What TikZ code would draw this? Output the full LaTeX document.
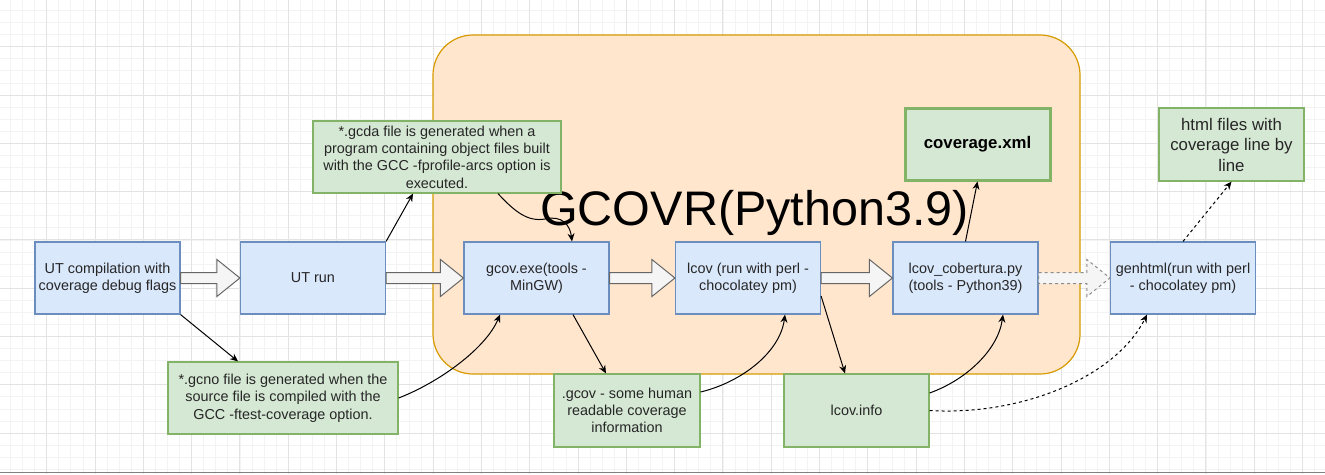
\documentclass[tikz,border=0pt]{standalone}
\usepackage{fontspec}
\setmainfont{Liberation Sans}
\usetikzlibrary{arrows.meta,calc}
\definecolor{bluefill}{HTML}{DAE8FC}
\definecolor{bluestroke}{HTML}{6C8EBF}
\definecolor{greenfill}{HTML}{D5E8D4}
\definecolor{greenstroke}{HTML}{82B366}
\definecolor{orangefill}{HTML}{FFE6CC}
\definecolor{orangestroke}{HTML}{D79B00}
\definecolor{arrowfill}{HTML}{F5F5F5}
\definecolor{arrowstroke}{HTML}{666666}
\definecolor{minorcol}{HTML}{F3F3F3}
\definecolor{majorcol}{HTML}{E3E3E3}
\newcommand\blockarr[3]{\draw[#1] let \p1=(#2.east), \p2=(#3.west) in
  (\x1,\y1+5.5pt) -- (\x2-23pt,\y1+5.5pt) -- (\x2-23pt,\y1+18.5pt) -- (\x2,\y1)
  -- (\x2-23pt,\y1-18.5pt) -- (\x2-23pt,\y1-5.5pt) -- (\x1,\y1-5.5pt) -- cycle;}
\begin{document}
\begin{tikzpicture}[x=1pt,y=-1pt,
  every node/.style={font=\fontsize{14.4}{17.3}\selectfont, align=center, inner sep=0pt, text=black!85},
  bluebox/.style={draw=bluestroke, fill=bluefill, line width=1.2pt, minimum width=145pt, minimum height=72pt},
  greenbox/.style={draw=greenstroke, fill=greenfill, line width=1.2pt},
  blockstyle/.style={draw=arrowstroke, fill=arrowfill, line width=1pt},
  dashblock/.style={draw=black!45, fill=arrowfill, line width=1pt, dash pattern=on 3pt off 3pt},
  conn/.style={draw=black, line width=1pt, -{Stealth[length=8pt,width=7pt]}},
  dconn/.style={conn, dash pattern=on 3pt off 3pt},
  minorgrid/.style={draw=minorcol, line width=0.8pt},
  majorgrid/.style={draw=majorcol, line width=0.9pt}
]
\useasboundingbox (0,0) rectangle (1325,474);
\fill[white] (0,0) rectangle (1325,474);
% grid
\foreach \i in {0,...,110} \draw[minorgrid] ({-1.6+\i*12.075},0) -- ({-1.6+\i*12.075},474);
\foreach \j in {0,...,40} \draw[minorgrid] (0,{-1.6+\j*12.075}) -- (1325,{-1.6+\j*12.075});
\foreach \i in {0,...,28} \draw[majorgrid] ({-1.6+\i*48.3},0) -- ({-1.6+\i*48.3},474);
\foreach \j in {0,...,10} \draw[majorgrid] (0,{-1.6+\j*48.3}) -- (1325,{-1.6+\j*48.3});
\draw[draw=black!50, line width=1.5pt] (0,472.5) -- (1325,472.5);

% container
\node[draw=orangestroke, fill=orangefill, line width=1.2pt, rounded corners=40pt,
      minimum width=647pt, minimum height=339pt] (container) at (756.5,204.5) {};
\node[font=\fontsize{48.5}{56}\selectfont, anchor=base, text=black] (title) at (754.5,225) {GCOVR(Python3.9)};

% main boxes
\node[bluebox] (utc) at (107.5,278) {UT compilation with\\coverage debug flags};
\node[bluebox] (utr) at (313,278) {UT run};
\node[bluebox] (gcov) at (536.5,278) {gcov.exe(tools -\\MinGW)};
\node[bluebox] (lcov) at (748,278) {lcov (run with perl -\\chocolatey pm)};
\node[bluebox] (cob) at (965.5,278) {lcov\_cobertura.py\\(tools - Python39)};
\node[bluebox] (gen) at (1183,278) {genhtml(run with perl\\- chocolatey pm)};

% notes
\node[greenbox, minimum width=248pt, minimum height=72pt] (gcda) at (437,157)
  {*.gcda file is generated when a\\program containing object files built\\with the GCC -fprofile-arcs option is\\executed.};
\node[greenbox, minimum width=230pt, minimum height=72pt] (gcno) at (283,398)
  {*.gcno file is generated when the\\source file is compiled with the\\GCC -ftest-coverage option.};
\node[greenbox, minimum width=146pt, minimum height=73pt] (gcovf) at (627,410.5)
  {.gcov - some human\\readable coverage\\information};
\node[greenbox, minimum width=145pt, minimum height=73pt] (info) at (856.5,410.5) {lcov.info};
\node[greenbox, line width=3pt, minimum width=145pt, minimum height=72pt,
      font=\fontsize{16.8}{20}\selectfont\bfseries, text=black] (xml) at (977.5,144) {coverage.xml};
\node[greenbox, minimum width=145pt, minimum height=73pt,
      font=\fontsize{16.8}{20.5}\selectfont] (html) at (1231.5,144.5) {html files with\\coverage line by\\line};

% block arrows
\blockarr{blockstyle}{utc}{utr}
\blockarr{blockstyle}{utr}{gcov}
\blockarr{blockstyle}{gcov}{lcov}
\blockarr{blockstyle}{lcov}{cob}
\blockarr{dashblock}{cob}{gen}

% connectors
\draw[conn] (utc.south east) -- ([xshift=-45pt]gcno.north);
\draw[conn] (utr.north east) -- ([xshift=-24pt]gcda.south);
\draw[conn] ([xshift=61pt]gcda.south) .. controls (515,212) and (528,222) .. (545,219)
   .. controls (562,215) and (570,225) .. ([xshift=35.5pt]gcov.north);
\draw[conn] (gcno.east) .. controls (440,382) and (486,348) .. ([xshift=-36.5pt]gcov.south);
\draw[conn] ([xshift=36.5pt]gcov.south) -- ([xshift=-21pt]gcovf.north);
\draw[conn] ([yshift=18.5pt]gcovf.east) .. controls (742,382) and (780,352) .. ([xshift=37pt]lcov.south);
\draw[conn] ([yshift=-18pt]lcov.east) -- ([xshift=-11.5pt]info.north);
\draw[conn] ([yshift=17.5pt]info.east) .. controls (966,380) and (998,350) .. ([xshift=37.5pt]cob.south);
\draw[conn] (cob.north) -- (xml.south);
\draw[dconn] (info.east) .. controls (1020,416) and (1115,378) .. ([xshift=-36pt]gen.south);
\draw[dconn] (gen.north) -- (html.south);
\end{tikzpicture}
\end{document}
